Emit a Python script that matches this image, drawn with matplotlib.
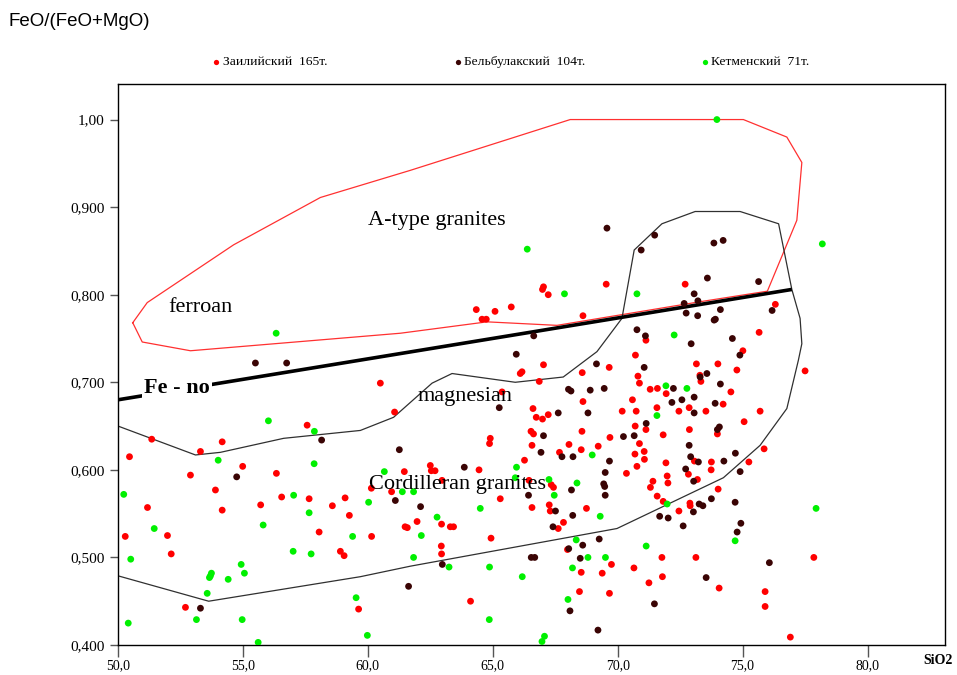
import matplotlib
matplotlib.use("Agg")
import matplotlib.pyplot as plt
from matplotlib.lines import Line2D

# ---------------- data ----------------
series_names = ["Заилийский  165т.", "Бельбулакский  104т.", "Кетменский  71т."]
series_colors = ["#ff0000", "#3a0404", "#00f000"]

zail_x = [60.50, 61.07, 57.57, 51.35, 54.17, 53.30, 50.46, 54.99, 61.46, 52.90, 56.34, 60.14, 53.90,
          60.95, 56.55, 57.65, 59.09, 51.18, 55.71, 54.17, 58.58, 59.26, 50.29, 51.98, 58.05, 60.15,
          61.49, 61.58, 58.90, 59.05, 52.13, 52.70, 59.63,
          67.03, 69.66, 73.15, 66.17, 66.10, 68.58, 70.81, 70.87, 66.86, 73.29, 73.33, 71.30, 71.59,
          71.94, 70.59, 68.61, 72.86, 72.45, 71.57, 66.61, 70.18, 70.74, 67.22, 66.74, 66.99, 70.70,
          71.13, 66.53, 66.63, 68.57, 69.69, 71.82, 72.87, 64.90, 64.87, 70.87, 66.57, 68.05, 69.22,
          68.54, 67.67, 70.69, 71.06, 71.07, 66.27, 71.93, 70.77, 72.83, 70.35, 62.50, 62.54, 62.69,
          64.45, 71.98, 72.01, 71.41, 71.31, 62.97, 65.30, 71.58, 71.82, 72.89, 72.90, 72.45, 66.57,
          67.26, 67.30, 68.75, 61.97, 62.95, 63.30, 63.43, 67.83, 67.62, 64.93, 62.94, 62.95, 67.99,
          71.77, 73.13, 69.75, 70.65, 68.54, 69.38, 71.79, 71.25, 68.47, 69.67, 64.11, 67.34, 67.43,
          66.45, 65.37,
          69.54, 67.03, 66.99, 67.22, 72.70, 64.34, 65.09, 65.74, 64.57, 64.74, 68.61, 71.13, 70.71,
          76.31, 75.66, 75.01, 74.01, 74.77, 77.50, 74.53, 74.22, 73.53, 75.70, 75.06, 73.99, 75.86,
          73.75, 75.25, 73.74, 73.19, 74.02, 77.85, 74.06, 75.90, 75.90, 76.91, 73.07]
zail_y = [0.699, 0.666, 0.651, 0.635, 0.632, 0.621, 0.615, 0.604, 0.598, 0.594, 0.596, 0.579, 0.577,
          0.575, 0.569, 0.567, 0.568, 0.557, 0.560, 0.554, 0.559, 0.548, 0.524, 0.525, 0.529, 0.524,
          0.535, 0.534, 0.507, 0.502, 0.504, 0.443, 0.441,
          0.720, 0.717, 0.721, 0.712, 0.710, 0.711, 0.707, 0.699, 0.701, 0.708, 0.701, 0.692, 0.693,
          0.687, 0.680, 0.678, 0.671, 0.667, 0.671, 0.670, 0.667, 0.667, 0.663, 0.660, 0.658, 0.650,
          0.646, 0.644, 0.641, 0.644, 0.637, 0.640, 0.646, 0.636, 0.630, 0.630, 0.628, 0.629, 0.627,
          0.623, 0.620, 0.618, 0.621, 0.612, 0.611, 0.608, 0.604, 0.595, 0.596, 0.605, 0.599, 0.599,
          0.600, 0.593, 0.585, 0.587, 0.580, 0.588, 0.567, 0.570, 0.564, 0.562, 0.559, 0.553, 0.557,
          0.560, 0.553, 0.556, 0.541, 0.538, 0.535, 0.535, 0.540, 0.533, 0.522, 0.513, 0.504, 0.509,
          0.500, 0.500, 0.492, 0.488, 0.483, 0.482, 0.478, 0.471, 0.461, 0.459, 0.450, 0.583, 0.580,
          0.588, 0.689,
          0.812, 0.809, 0.806, 0.800, 0.812, 0.783, 0.781, 0.786, 0.772, 0.772, 0.776, 0.748, 0.731,
          0.789, 0.757, 0.736, 0.721, 0.714, 0.713, 0.689, 0.675, 0.667, 0.667, 0.655, 0.641, 0.624,
          0.609, 0.609, 0.600, 0.589, 0.578, 0.500, 0.465, 0.461, 0.444, 0.409, 0.610]

belb_x = [55.50, 56.75, 58.15, 61.26, 54.75, 61.10, 61.63, 53.30,
          69.15, 71.06, 68.03, 68.13, 68.90, 69.46, 72.23, 72.17, 72.57, 73.06, 73.06, 65.26, 68.81,
          67.62, 71.14, 67.03, 70.23, 70.66, 72.86, 66.93, 67.77, 68.21, 69.67, 72.92, 72.72, 69.50,
          63.86, 73.04, 69.44, 69.48, 69.50, 68.15, 66.43, 73.26, 73.41, 73.03, 62.11, 67.51, 68.20,
          71.68, 72.02, 72.62, 67.41, 69.26, 68.60, 68.04, 66.54, 66.68, 68.50, 62.98, 71.47, 68.09,
          69.21,
          69.57, 71.48, 70.94, 73.06, 73.21, 72.66, 72.74, 73.20, 66.64, 70.77, 71.11, 72.94, 65.94,
          73.85, 74.22, 73.59, 75.64, 76.18, 74.11, 73.86, 73.91, 74.59, 74.89, 73.57, 73.30, 74.11,
          73.90, 73.99, 74.07, 74.71, 73.23, 74.25, 74.90, 73.75, 74.70, 74.93, 74.78, 76.07, 73.54]
belb_y = [0.722, 0.722, 0.634, 0.623, 0.592, 0.565, 0.467, 0.442,
          0.721, 0.717, 0.692, 0.690, 0.691, 0.693, 0.693, 0.677, 0.680, 0.683, 0.665, 0.671, 0.665,
          0.665, 0.653, 0.639, 0.638, 0.639, 0.628, 0.620, 0.615, 0.615, 0.610, 0.615, 0.601, 0.597,
          0.603, 0.587, 0.584, 0.581, 0.571, 0.577, 0.571, 0.561, 0.559, 0.552, 0.558, 0.553, 0.548,
          0.547, 0.545, 0.536, 0.535, 0.521, 0.514, 0.510, 0.500, 0.500, 0.499, 0.492, 0.447, 0.439,
          0.417,
          0.876, 0.868, 0.851, 0.801, 0.793, 0.790, 0.779, 0.776, 0.753, 0.760, 0.753, 0.744, 0.732,
          0.859, 0.862, 0.819, 0.815, 0.782, 0.783, 0.771, 0.772, 0.750, 0.731, 0.710, 0.706, 0.698,
          0.676, 0.646, 0.649, 0.619, 0.609, 0.610, 0.598, 0.567, 0.563, 0.539, 0.529, 0.494, 0.477]

ketm_x = [56.33, 56.02, 57.86, 54.01, 57.85, 60.66, 50.23, 61.38, 57.03, 60.03, 57.65, 55.81, 51.45,
          59.39, 57.01, 57.73, 50.51, 54.93, 55.06, 53.74, 53.66, 54.41, 53.57, 59.53, 50.41, 53.14,
          54.97, 59.98, 55.61, 71.93, 72.77, 71.57, 68.98, 65.95, 65.90, 67.25, 68.37, 61.83, 67.46,
          71.98, 64.50, 69.30, 62.77, 62.14, 68.34, 71.14, 61.83, 68.81, 69.51, 63.25, 64.87, 68.19,
          66.18, 68.01, 64.86, 67.07, 66.97, 66.38, 67.87, 70.77, 72.26, 73.97, 78.19, 77.94, 74.70,
          53.70]
ketm_y = [0.756, 0.656, 0.644, 0.611, 0.607, 0.598, 0.572, 0.575, 0.571, 0.563, 0.551, 0.537, 0.533,
          0.524, 0.507, 0.504, 0.498, 0.492, 0.482, 0.482, 0.477, 0.475, 0.459, 0.454, 0.425, 0.429,
          0.429, 0.411, 0.403, 0.696, 0.693, 0.662, 0.617, 0.603, 0.591, 0.589, 0.585, 0.575, 0.571,
          0.561, 0.556, 0.547, 0.546, 0.525, 0.520, 0.513, 0.500, 0.500, 0.500, 0.489, 0.489, 0.488,
          0.478, 0.452, 0.429, 0.410, 0.404, 0.852, 0.801, 0.801, 0.754, 1.000, 0.858, 0.556, 0.519,
          0.479]

# A-type granite field (red outline)
atype_x = [50.59, 51.17, 54.63, 58.10, 61.70, 68.10, 75.03, 76.77, 77.37, 77.17, 75.99, 73.30,
           67.57, 64.77, 61.30, 52.90, 50.97, 50.59]
atype_y = [0.768, 0.791, 0.857, 0.911, 0.942, 1.000, 1.000, 0.980, 0.951, 0.885, 0.804, 0.792,
           0.765, 0.769, 0.756, 0.736, 0.746, 0.768]

# Cordilleran granite field (black outline)
cord_x = [50.0, 53.10, 54.10, 56.63, 59.70, 61.03, 62.57, 63.37, 65.90, 67.82, 69.17, 70.17,
          70.66, 71.77, 73.10, 74.90, 76.44, 76.97, 77.30, 77.37, 77.23, 76.77, 75.70, 74.23,
          69.97, 61.70, 59.70, 53.63, 50.0]
cord_y = [0.650, 0.617, 0.620, 0.636, 0.645, 0.660, 0.699, 0.710, 0.700, 0.706, 0.735, 0.773,
          0.851, 0.881, 0.895, 0.895, 0.881, 0.806, 0.773, 0.744, 0.725, 0.670, 0.628, 0.591,
          0.533, 0.490, 0.478, 0.450, 0.479]

# Fe-number divider line
feno_x = [50.0, 76.97]
feno_y = [0.680, 0.806]

xticks = [50, 55, 60, 65, 70, 75, 80]
xtick_labels = ["50,0", "55,0", "60,0", "65,0", "70,0", "75,0", "80,0"]
yticks = [0.4, 0.5, 0.6, 0.7, 0.8, 0.9, 1.0]
ytick_labels = ["0,400", "0,500", "0,600", "0,700", "0,800", "0,900", "1,00"]

# ---------------- plot ----------------
serif = ["Liberation Serif", "DejaVu Serif"]
plt.rcParams["font.family"] = serif

fig = plt.figure(figsize=(9.57, 6.75), dpi=100)
ax = fig.add_axes([118 / 957, 1 - 645 / 675, (945 - 118) / 957, (645 - 84) / 675])
ax.set_xlim(50, 83.1)
ax.set_ylim(0.4, 1.0406)

ax.plot(atype_x, atype_y, color="#ff3030", lw=0.9, zorder=2)
ax.plot(cord_x, cord_y, color="#303030", lw=0.9, zorder=2)
ax.plot(feno_x, feno_y, color="black", lw=2.6, zorder=3, solid_capstyle="butt")

ms = 24
ax.scatter(zail_x, zail_y, s=ms, color=series_colors[0], edgecolors="none", zorder=4)
ax.scatter(belb_x, belb_y, s=ms, color=series_colors[1], edgecolors="none", zorder=4)
ax.scatter(ketm_x, ketm_y, s=ms, color=series_colors[2], edgecolors="none", zorder=4)

ax.text(62.75, 0.885, "A-type granites", fontsize=16, ha="center", va="center", zorder=5)
ax.text(53.3, 0.785, "ferroan", fontsize=16, ha="center", va="center", zorder=5)
ax.text(63.9, 0.684, "magnesian", fontsize=16, ha="center", va="center", zorder=5)
ax.text(63.6, 0.583, "Cordilleran granites", fontsize=16, ha="center", va="center", zorder=5)
ax.text(52.35, 0.694, "Fe - no", fontsize=16, fontweight="bold", ha="center", va="center",
        zorder=5, bbox=dict(facecolor="white", edgecolor="none", pad=1.5))

ax.set_xticks(xticks)
ax.set_xticklabels(xtick_labels, fontsize=10)
ax.set_yticks(yticks)
ax.set_yticklabels(ytick_labels, fontsize=11)
ax.tick_params(axis="x", direction="out", length=8.5, width=1.0, color="#555555", pad=2)
ax.tick_params(axis="y", direction="out", length=5.5, width=1.0, color="#555555", pad=4)
for sp in ax.spines.values():
    sp.set_linewidth(1.0)
    sp.set_color("black")

fig.text(938 / 957, 1 - 660 / 675, "SiO2", fontsize=10, fontweight="bold", ha="center", va="center")
fig.text(8 / 957, 1 - 21 / 675, "FeO/(FeO+MgO)", fontsize=13.5, ha="left", va="center",
         family=["Liberation Sans", "DejaVu Sans"])

# legend row
leg_y = 1 - 62 / 675
for mx, tx, name, col in zip([216, 458, 705], [223, 464, 711], series_names, series_colors):
    fig.add_artist(Line2D([mx / 957], [leg_y], transform=fig.transFigure, marker="o",
                          markersize=3.8, color=col, markeredgewidth=0, linestyle="none"))
    fig.text(tx / 957, leg_y, name, fontsize=9.7, ha="left", va="center")

fig.savefig("out.png", dpi=100)
